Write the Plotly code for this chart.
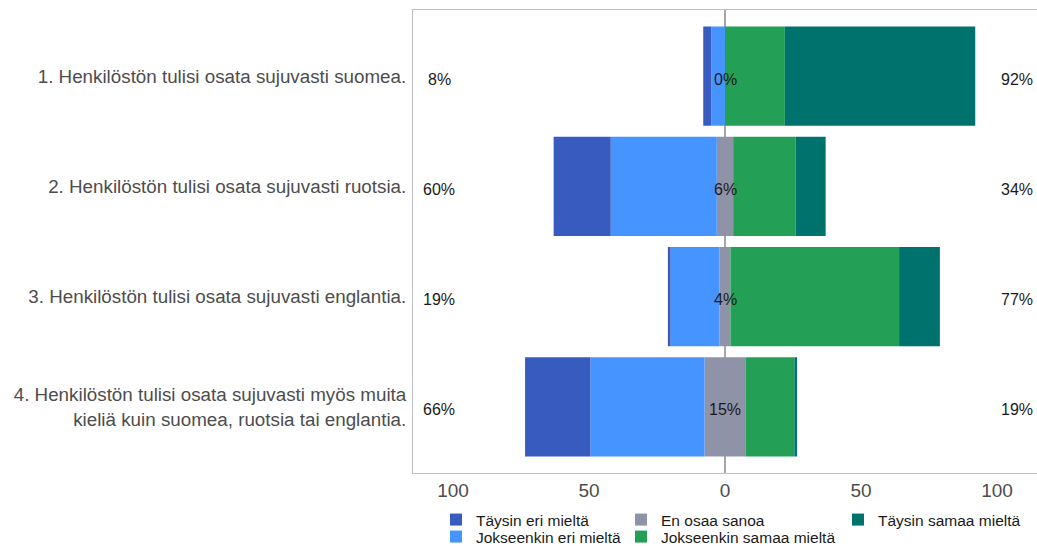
import plotly.graph_objects as go

# ---- data ----
questions = [
    "1. Henkilöstön tulisi osata sujuvasti suomea.",
    "2. Henkilöstön tulisi osata sujuvasti ruotsia.",
    "3. Henkilöstön tulisi osata sujuvasti englantia.",
    "4. Henkilöstön tulisi osata sujuvasti myös muita<br>kieliä kuin suomea, ruotsia tai englantia.",
]
taysin_eri = [3, 21, 1, 24]
jokseenkin_eri = [5, 39, 18, 42]
en_osaa = [0, 6, 4, 15]
jokseenkin_samaa = [22, 23, 62, 18]
taysin_samaa = [70, 11, 15, 1]

level_names = ["Täysin eri mieltä", "Jokseenkin eri mieltä", "En osaa sanoa",
               "Jokseenkin samaa mieltä", "Täysin samaa mieltä"]
colors = ["#385bbf", "#4594ff", "#8f93a8", "#23a055", "#00726e"]

x_ticks = [-100, -50, 0, 50, 100]
x_ticktext = ["100", "50", "0", "50", "100"]

left_pct = [a + b for a, b in zip(taysin_eri, jokseenkin_eri)]
right_pct = [a + b for a, b in zip(jokseenkin_samaa, taysin_samaa)]

ypos = list(range(1, len(questions) + 1))

fig = go.Figure()

half_neg = [-v / 2 for v in en_osaa]
half_pos = [v / 2 for v in en_osaa]

legend_pos = {
    "legend": (436, 521),
    "legend2": (436, 538),
    "legend3": (621, 521),
    "legend4": (621, 538),
    "legend5": (838, 521),
}

def bar(x, name, color, legend, show, rank):
    fig.add_trace(go.Bar(
        y=ypos, x=x, orientation="h", name=name,
        marker=dict(color=color, line=dict(width=0)),
        width=0.9, showlegend=show, legend=legend, legendrank=rank,
        hoverinfo="x+name",
    ))

bar(half_neg, level_names[2], colors[2], "legend3", False, 3)
bar(half_pos, level_names[2], colors[2], "legend3", True, 3)
bar([-v for v in jokseenkin_eri], level_names[1], colors[1], "legend2", True, 2)
bar([-v for v in taysin_eri], level_names[0], colors[0], "legend", True, 1)
bar(jokseenkin_samaa, level_names[3], colors[3], "legend4", True, 4)
bar(taysin_samaa, level_names[4], colors[4], "legend5", True, 5)

txtfont = dict(family="Liberation Sans, Arial, sans-serif", size=16, color="#1a1a1a")
for yv, lv, nv, rv in zip(ypos, left_pct, en_osaa, right_pct):
    for xv, val in ((-105, lv), (0, nv), (107.5, rv)):
        fig.add_annotation(x=xv, y=yv, text=f"{val}%", showarrow=False,
                           font=txtfont, yshift=-3)

W, H = 1037, 546
legend_layouts = {}
for key, (px, py) in legend_pos.items():
    legend_layouts[key] = dict(
        x=px / W, y=1 - (py - 18) / H, xref="container", yref="container",
        xanchor="left", yanchor="top", orientation="v",
        font=dict(family="Liberation Sans, Arial, sans-serif", size=15.5, color="#1a1a1a"),
        bgcolor="rgba(0,0,0,0)", borderwidth=0,
    )

fig.update_layout(
    width=W, height=H,
    barmode="relative",
    plot_bgcolor="white", paper_bgcolor="white",
    margin=dict(l=413, r=0, t=10, b=73, autoexpand=False),
    font=dict(family="Liberation Sans, Arial, sans-serif", size=19, color="#4d4d4d"),
    **legend_layouts,
)

fig.update_xaxes(
    range=[-114.7, 114.7], tickvals=x_ticks, ticktext=x_ticktext,
    showgrid=False, zeroline=True, zerolinecolor="#a6a6a6", zerolinewidth=1.5,
    showline=True, linecolor="#bebebe", linewidth=1, mirror=True,
    ticks="", tickfont=dict(size=19, color="#4d4d4d"), fixedrange=True,
)
fig.update_yaxes(
    range=[4.6, 0.4], tickvals=ypos, ticktext=questions,
    showgrid=False, zeroline=False,
    showline=True, linecolor="#bebebe", linewidth=1, mirror=False,
    ticks="outside", ticklen=2, tickcolor="rgba(0,0,0,0)",
    tickfont=dict(size=18.8, color="#4d4d4d"),
    fixedrange=True,
)

fig.write_html("out.html",
               config={"displayModeBar": False},
               post_script="document.body.style.margin='0';document.body.style.overflow='hidden';")
